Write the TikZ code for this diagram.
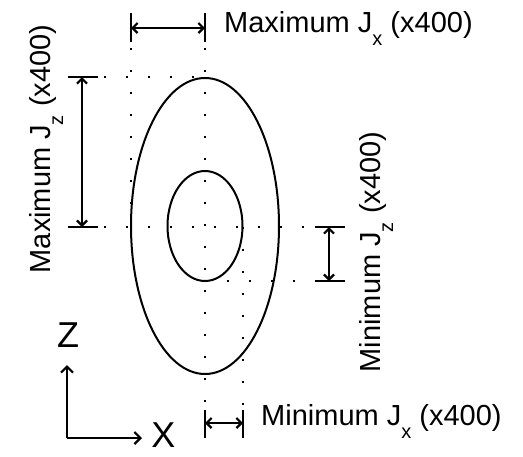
\documentclass[tikz,border=0pt]{standalone}
\usepackage{fontspec}
\setmainfont{Liberation Sans}
\usetikzlibrary{arrows.meta}
\newcommand{\mysub}[1]{\raisebox{-0.45em}{\fontsize{20}{20}\selectfont #1}}
\begin{document}
\begin{tikzpicture}[x=1pt,y=-1pt,
  dimline/.style={line width=2.2pt,{Straight Barb[length=5pt,width=10pt]}-{Straight Barb[length=5pt,width=10pt]}},
  tickline/.style={line width=2.6pt},
  dotline/.style={line width=2.2pt,dash pattern=on 2.2pt off 19.8pt},
  curve/.style={line width=2pt},
  lab/.style={font=\fontsize{29}{29}\selectfont,inner sep=0pt},
  axlab/.style={font=\fontsize{36}{36}\selectfont,inner sep=0pt},
  axisline/.style={line width=2.2pt,-{Straight Barb[length=6pt,width=12pt]}}
]
\useasboundingbox (0,0) rectangle (523,456);
% ellipses
\coordinate (c) at (205,226);
\draw[curve] (c) ellipse [x radius=74, y radius=148];
\draw[curve] (c) ellipse [x radius=37.5, y radius=55];
% dotted guide lines
\coordinate (v1t) at (131,48);  \coordinate (v1b) at (131,227);
\coordinate (v2t) at (205,48);  \coordinate (v2b) at (205,410);
\coordinate (v3t) at (243,227); \coordinate (v3b) at (243,410);
\coordinate (h1l) at (104,77);  \coordinate (h1r) at (205,77);
\coordinate (h2l) at (104,227); \coordinate (h2r) at (315,227);
\coordinate (h3l) at (205,281); \coordinate (h3r) at (315,281);
\draw[dotline] (v1t) -- (v1b);
\draw[dotline] (v2t) -- (v2b);
\draw[dotline] (v3t) -- (v3b);
\draw[dotline] (h1l) -- (h1r);
\draw[dotline] (h2l) -- (h2r);
\draw[dotline] (h3l) -- (h3r);
% top dimension (maximum Jx)
\coordinate (ta1) at (131,13); \coordinate (tb1) at (131,42);
\coordinate (ta2) at (205,13); \coordinate (tb2) at (205,42);
\coordinate (tl) at (131,28);  \coordinate (tr) at (205,28);
\draw[tickline] (ta1) -- (tb1);
\draw[tickline] (ta2) -- (tb2);
\draw[dimline] (tl) -- (tr);
% left dimension (maximum Jz)
\coordinate (la1) at (68,77);  \coordinate (lb1) at (98,77);
\coordinate (la2) at (68,227); \coordinate (lb2) at (98,227);
\coordinate (lt) at (82,77);   \coordinate (lbot) at (82,227);
\draw[tickline] (la1) -- (lb1);
\draw[tickline] (la2) -- (lb2);
\draw[dimline] (lt) -- (lbot);
% right dimension (minimum Jz)
\coordinate (ra1) at (315,227); \coordinate (rb1) at (345,227);
\coordinate (ra2) at (315,281); \coordinate (rb2) at (345,281);
\coordinate (rt) at (329,227);  \coordinate (rbot) at (329,281);
\draw[tickline] (ra1) -- (rb1);
\draw[tickline] (ra2) -- (rb2);
\draw[dimline] (rt) -- (rbot);
% bottom dimension (minimum Jx)
\coordinate (ba1) at (205,410); \coordinate (bb1) at (205,438);
\coordinate (ba2) at (243,410); \coordinate (bb2) at (243,438);
\coordinate (bl) at (205,423);  \coordinate (br) at (243,423);
\draw[tickline] (ba1) -- (bb1);
\draw[tickline] (ba2) -- (bb2);
\draw[dimline] (bl) -- (br);
% axes
\coordinate (o) at (67,438);
\coordinate (zt) at (67,365);
\coordinate (xt) at (142,438);
\draw[axisline] (o) -- (zt);
\draw[axisline] (o) -- (xt);
\node[axlab] (zl) at (68,335) {Z};
\node[axlab] (xl) at (163.5,435.5) {X};
% labels
\node[lab,anchor=base west] (lmaxjx) at (224,32) {Maximum J\mysub{x} (x400)};
\node[lab,anchor=base west] (lminjx) at (261,425) {Minimum J\mysub{x} (x400)};
\node[lab,rotate=90,anchor=base] (lmaxjz) at (50,149) {Maximum J\mysub{z} (x400)};
\node[lab,rotate=90,anchor=base] (lminjz) at (380,252) {Minimum J\mysub{z} (x400)};
\end{tikzpicture}
\end{document}
